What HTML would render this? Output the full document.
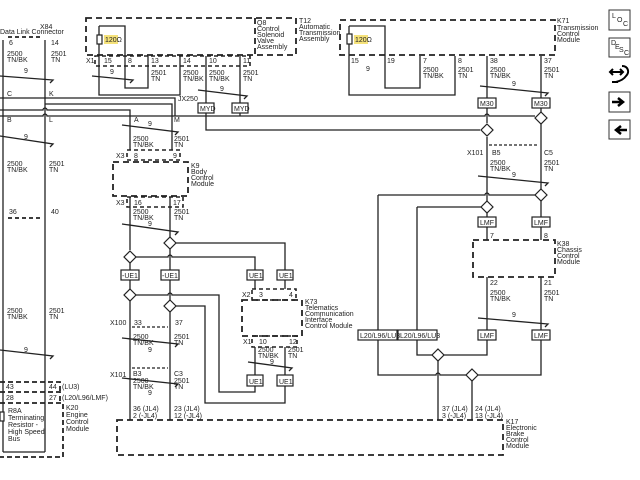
<!DOCTYPE html>
<html><head><meta charset="utf-8"><style>
html,body{margin:0;padding:0;background:#fff;}
svg{display:block;font-family:"Liberation Sans",sans-serif;}
text{font-size:7px;fill:#222;}
</style></head><body>
<svg width="640" height="480" viewBox="0 0 640 480" xmlns="http://www.w3.org/2000/svg">
<g fill="none" stroke="#222" stroke-width="1.3">
<path d="M3 40V452M45 40V452"/>
<path d="M3 452H45"/>
<path d="M8 37H42M8 218H42" stroke-dasharray="4,3" stroke-width="1.8"/>
<path d="M0 76L53 80l-3 3M0 136L53 144l-3 3M0 350L53 356l-3 3"/>
<path d="M0 98H175V116"/>
<path d="M45 104H172V150"/>
<path d="M0 110H43a2 2 0 0 1 4 0H130V150"/>
<path d="M0 116H43a2 2 0 0 1 4 0H485a2 2 0 0 1 4 0H535"/>
<path d="M206 113V130H480"/>
<path d="M240 113V116"/>
<path d="M86 18H296V55H86Z" stroke-dasharray="6,4" stroke-width="1.8"/>
<path d="M255 18V55" stroke-dasharray="6,4" stroke-width="1.8"/>
<path d="M95 56H250V66H95Z" stroke-dasharray="4,3" stroke-width="1.6"/>
<path d="M99 26H125V88H148V56M99 26V95H180V56"/>
<path d="M206 56V103M240 56V103"/>
<path d="M92 76L133 80l-3 3M198 90L247 96l-3 3"/>
<path d="M340 20H555V55H340Z" stroke-dasharray="6,4" stroke-width="1.8"/>
<path d="M349 26H385V88H420V56M349 26V95H455V56"/>
<path d="M487 56V98M541 56V98M487 108V123M541 108V113"/>
<path d="M480 86L548 93l-3 3M478 176L548 183l-3 3M478 318L548 324l-3 3"/>
<path d="M489 145H539" stroke-dasharray="3,2"/>
<path d="M487 137V201"/>
<path d="M541 124V189"/>
<path d="M378 195H485a2 2 0 0 1 4 0H535M417 207H481"/>
<path d="M487 213V217M541 201V217M487 227V240M541 227V240"/>
<path d="M473 240H555V277H473Z" stroke-dasharray="6,4" stroke-width="1.8"/>
<path d="M487 277V330M541 277V330"/>
<path d="M378 195V330M417 207V330"/>
<path d="M378 340V375H436a2 2 0 0 1 4 0H466M478 375H541V340M417 340V355H432M444 355H487V340"/>
<path d="M438 361V420M472 381V420"/>
<path d="M127 150H180V160H127Z" stroke-dasharray="4,3" stroke-width="1.6"/>
<path d="M113 162H188V196H113Z" stroke-dasharray="6,4" stroke-width="1.8"/>
<path d="M127 197H183V207H127Z" stroke-dasharray="4,3" stroke-width="1.6"/>
<path d="M122 125L178 132l-3 3M122 224L178 232l-3 3"/>
<path d="M130 197V250M170 197V237"/>
<path d="M176 243H285V270M136 257H168a2 2 0 0 1 4 0H255V270"/>
<path d="M130 263V270M170 249V270M130 280V289M170 280V300"/>
<path d="M136 295H168a2 2 0 0 1 4 0H219V392H255V386M176 306H205V403H285V386"/>
<path d="M130 301V420M170 312V420"/>
<path d="M132 327H168M132 368H168" stroke-dasharray="3,2"/>
<path d="M122 338L178 344l-3 3M122 378L178 384l-3 3"/>
<path d="M255 280V289M285 280V289"/>
<path d="M252 289H296V300H252Z" stroke-dasharray="4,3" stroke-width="1.6"/>
<path d="M242 300H302V336H242Z" stroke-dasharray="6,4" stroke-width="1.8"/>
<path d="M252 336H297V347H252Z" stroke-dasharray="4,3" stroke-width="1.6"/>
<path d="M255 347V375M285 347V375"/>
<path d="M248 362L292 368l-3 3"/>
<path d="M117 420H503V455H117Z" stroke-dasharray="6,4" stroke-width="1.8"/>
<path d="M0 382H60V392M0 392H60V403M0 403H63V457H0" stroke-dasharray="5,3" stroke-width="1.8"/>
</g>
<g fill="#fff" stroke="#222" stroke-width="1.2">
<path d="M487 124l6 6-6 6-6-6Z"/><path d="M541 112l6 6-6 6-6-6Z"/>
<path d="M541 189l6 6-6 6-6-6Z"/><path d="M487 201l6 6-6 6-6-6Z"/>
<path d="M438 349l6 6-6 6-6-6Z"/><path d="M472 369l6 6-6 6-6-6Z"/>
<path d="M170 237l6 6-6 6-6-6Z"/><path d="M130 251l6 6-6 6-6-6Z"/>
<path d="M130 289l6 6-6 6-6-6Z"/><path d="M170 300l6 6-6 6-6-6Z"/>
<rect x="97" y="35" width="5" height="9"/><rect x="347" y="34" width="5" height="10"/><rect x="0" y="412" width="4" height="9"/>
<rect x="198" y="103" width="16" height="10"/><rect x="232" y="103" width="16" height="10"/>
<rect x="478" y="98" width="18" height="10"/><rect x="532" y="98" width="18" height="10"/>
<rect x="478" y="217" width="18" height="10"/><rect x="532" y="217" width="18" height="10"/>
<rect x="478" y="330" width="18" height="10"/><rect x="532" y="330" width="18" height="10"/>
<rect x="358" y="330" width="39" height="10"/><rect x="398" y="330" width="39" height="10"/>
<rect x="121" y="270" width="18" height="10"/><rect x="161" y="270" width="18" height="10"/>
<rect x="247" y="270" width="16" height="10"/><rect x="277" y="270" width="16" height="10"/>
<rect x="247" y="375" width="16" height="11"/><rect x="277" y="375" width="16" height="11"/>
</g>
<rect x="104" y="35" width="14" height="9" fill="#f5e27a"/><rect x="354" y="35" width="14" height="9" fill="#f5e27a"/>
<g>
<text x="0" y="34">Data Link Connector</text><text x="40" y="29">X84</text>
<text x="9" y="45">6</text><text x="51" y="45">14</text>
<text x="7" y="56">2500</text><text x="7" y="62">TN/BK</text><text x="51" y="56">2501</text><text x="51" y="62">TN</text>
<text x="24" y="73">9</text><text x="7" y="96">C</text><text x="49" y="96">K</text>
<text x="7" y="122">B</text><text x="49" y="122">L</text><text x="24" y="139">9</text>
<text x="7" y="166">2500</text><text x="7" y="172">TN/BK</text><text x="49" y="166">2501</text><text x="49" y="172">TN</text>
<text x="9" y="214">36</text><text x="51" y="214">40</text>
<text x="7" y="313">2500</text><text x="7" y="319">TN/BK</text><text x="49" y="313">2501</text><text x="49" y="319">TN</text>
<text x="24" y="352">9</text>
<text x="6" y="389">43</text><text x="49" y="389">44</text><text x="62" y="389">(LU3)</text>
<text x="6" y="400">28</text><text x="49" y="400">27</text><text x="62" y="400">(L20/L96/LMF)</text>
<text x="66" y="410">K20</text><text x="66" y="417">Engine</text><text x="66" y="424">Control</text><text x="66" y="431">Module</text>
<text x="8" y="413">R8A</text><text x="8" y="420">Terminating</text><text x="8" y="427">Resistor -</text><text x="8" y="434">High Speed</text><text x="8" y="441">Bus</text>
<text x="105" y="42" font-size="6">120Ω</text><text x="355" y="42" font-size="6">120Ω</text>
<text x="257" y="25">Q8</text><text x="257" y="31">Control</text><text x="257" y="37">Solenoid</text><text x="257" y="43">Valve</text><text x="257" y="49">Assembly</text>
<text x="299" y="23">T12</text><text x="299" y="29">Automatic</text><text x="299" y="35">Transmission</text><text x="299" y="41">Assembly</text>
<text x="86" y="63">X1</text><text x="104" y="63">15</text><text x="128" y="63">8</text><text x="151" y="63">13</text><text x="183" y="63">14</text><text x="209" y="63">10</text><text x="243" y="63">11</text>
<text x="110" y="74">9</text><text x="151" y="75">2501</text><text x="151" y="81">TN</text>
<text x="183" y="75">2500</text><text x="183" y="81">TN/BK</text><text x="209" y="75">2500</text><text x="209" y="81">TN/BK</text><text x="243" y="75">2501</text><text x="243" y="81">TN</text>
<text x="220" y="91">9</text><text x="178" y="101">JX250</text>
<text x="200" y="111" font-size="6.5">MYD</text><text x="234" y="111" font-size="6.5">MYD</text>
<text x="134" y="122">A</text><text x="174" y="122">M</text><text x="148" y="126">9</text>
<text x="133" y="141">2500</text><text x="133" y="147">TN/BK</text><text x="174" y="141">2501</text><text x="174" y="147">TN</text>
<text x="116" y="158">X3</text><text x="134" y="158">8</text><text x="173" y="158">9</text>
<text x="191" y="168">K9</text><text x="191" y="174">Body</text><text x="191" y="180">Control</text><text x="191" y="186">Module</text>
<text x="116" y="205">X3</text><text x="134" y="205">16</text><text x="173" y="205">17</text>
<text x="133" y="214">2500</text><text x="133" y="220">TN/BK</text><text x="174" y="214">2501</text><text x="174" y="220">TN</text><text x="148" y="226">9</text>
<text x="122" y="278" font-size="6.5">-UE1</text><text x="162" y="278" font-size="6.5">-UE1</text>
<text x="249" y="278" font-size="6.5">UE1</text><text x="279" y="278" font-size="6.5">UE1</text>
<text x="110" y="325">X100</text><text x="134" y="325">33</text><text x="175" y="325">37</text>
<text x="133" y="339">2500</text><text x="133" y="345">TN/BK</text><text x="174" y="339">2501</text><text x="174" y="345">TN</text><text x="148" y="352">9</text>
<text x="110" y="377">X101</text><text x="133" y="376">B3</text><text x="133" y="383">2500</text><text x="133" y="389">TN/BK</text><text x="174" y="376">C3</text><text x="174" y="383">2501</text><text x="174" y="389">TN</text>
<text x="148" y="395">9</text>
<text x="133" y="411">36 (JL4)</text><text x="133" y="418">2 (-JL4)</text><text x="174" y="411">23 (JL4)</text><text x="174" y="418">12 (-JL4)</text>
<text x="242" y="297">X2</text><text x="259" y="297">3</text><text x="289" y="297">4</text>
<text x="305" y="304">K73</text><text x="305" y="310">Telematics</text><text x="305" y="316">Communication</text><text x="305" y="322">Interface</text><text x="305" y="328">Control Module</text>
<text x="243" y="344">X1</text><text x="259" y="344">10</text><text x="289" y="344">12</text>
<text x="258" y="352">2500</text><text x="258" y="358">TN/BK</text><text x="288" y="352">2501</text><text x="288" y="358">TN</text><text x="270" y="364">9</text>
<text x="249" y="384" font-size="6.5">UE1</text><text x="279" y="384" font-size="6.5">UE1</text>
<text x="557" y="23">K71</text><text x="557" y="30">Transmission</text><text x="557" y="36">Control</text><text x="557" y="42">Module</text>
<text x="351" y="63">15</text><text x="387" y="63">19</text><text x="423" y="63">7</text><text x="458" y="63">8</text><text x="490" y="63">38</text><text x="544" y="63">37</text>
<text x="366" y="71">9</text><text x="423" y="72">2500</text><text x="423" y="78">TN/BK</text><text x="458" y="72">2501</text><text x="458" y="78">TN</text>
<text x="490" y="72">2500</text><text x="490" y="78">TN/BK</text><text x="544" y="72">2501</text><text x="544" y="78">TN</text><text x="512" y="86">9</text>
<text x="480" y="106" font-size="6.5">M30</text><text x="534" y="106" font-size="6.5">M30</text>
<text x="467" y="155">X101</text><text x="492" y="155">B5</text><text x="544" y="155">C5</text>
<text x="490" y="165">2500</text><text x="490" y="171">TN/BK</text><text x="544" y="165">2501</text><text x="544" y="171">TN</text><text x="512" y="177">9</text>
<text x="480" y="225" font-size="6.5">LMF</text><text x="534" y="225" font-size="6.5">LMF</text>
<text x="490" y="238">7</text><text x="544" y="238">8</text>
<text x="557" y="246">K38</text><text x="557" y="252">Chassis</text><text x="557" y="258">Control</text><text x="557" y="264">Module</text>
<text x="490" y="285">22</text><text x="544" y="285">21</text>
<text x="490" y="295">2500</text><text x="490" y="301">TN/BK</text><text x="544" y="295">2501</text><text x="544" y="301">TN</text><text x="512" y="317">9</text>
<text x="480" y="338" font-size="6.5">LMF</text><text x="534" y="338" font-size="6.5">LMF</text>
<text x="360" y="338" font-size="6">L20/L96/LU3</text><text x="400" y="338" font-size="6">L20/L96/LU3</text>
<text x="442" y="411">37 (JL4)</text><text x="442" y="418">3 (-JL4)</text><text x="475" y="411">24 (JL4)</text><text x="475" y="418">13 (-JL4)</text>
<text x="506" y="424">K17</text><text x="506" y="430">Electronic</text><text x="506" y="436">Brake</text><text x="506" y="442">Control</text><text x="506" y="448">Module</text>
</g>
<g fill="#fff" stroke="#333" stroke-width="1">
<rect x="609" y="10" width="21" height="20"/><rect x="609" y="38" width="21" height="19"/>
<rect x="609" y="92" width="21" height="20"/><rect x="609" y="120" width="21" height="19"/>
</g>
<text x="612" y="18" font-size="6">L</text><text x="617" y="22" font-size="6">O</text><text x="623" y="26" font-size="6">C</text>
<text x="611" y="45" font-size="6">D</text><text x="615" y="49" font-size="6">E</text><text x="619" y="52" font-size="6">S</text><text x="624" y="55" font-size="6">C</text>
<path d="M612 102h10M618 98l5 4-5 4" stroke="#000" stroke-width="2.5" fill="none"/>
<path d="M627 130h-10M621 126l-5 4 5 4" stroke="#000" stroke-width="2.5" fill="none"/>
<path d="M610 72h12M613 69l-3 3 3 3M620 69l3 3-3 3M622 66c6 0 8 6 4 10-2 3-6 5-10 6M612 82h6" stroke="#000" stroke-width="2" fill="none"/>
</svg>
</body></html>
